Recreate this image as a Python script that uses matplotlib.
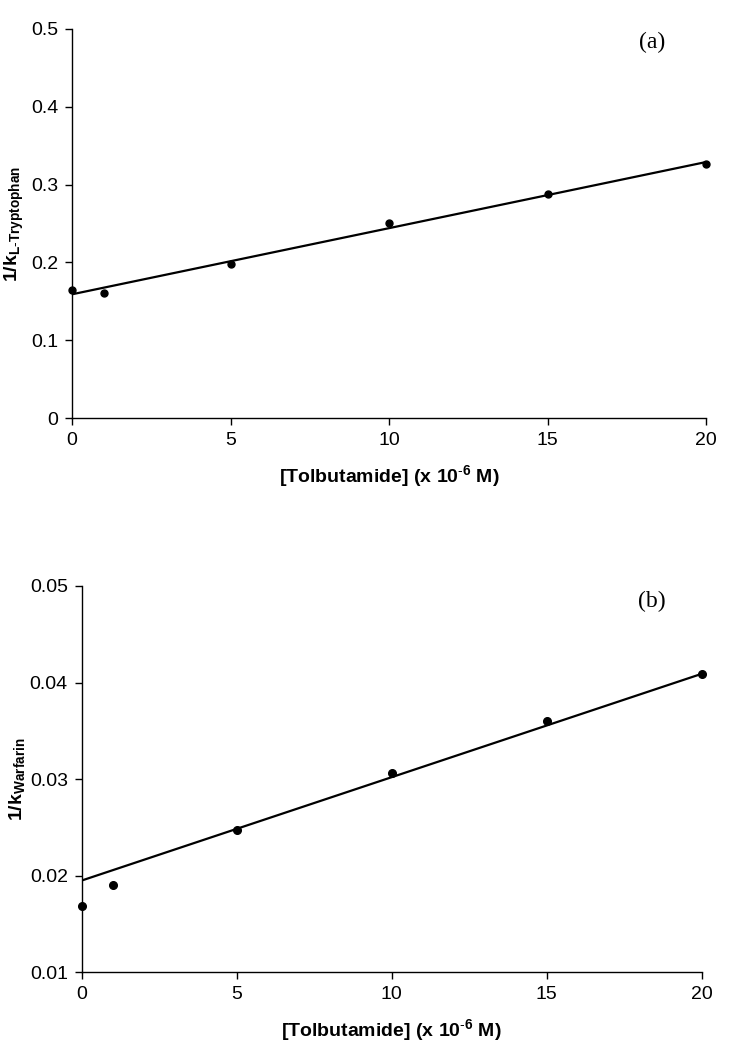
import numpy as np
import matplotlib
matplotlib.use('Agg')
import matplotlib.pyplot as plt
from matplotlib.ticker import FormatStrFormatter, FuncFormatter

plt.rcParams['font.family'] = ['Liberation Sans', 'DejaVu Sans']
plt.rcParams['mathtext.fontset'] = 'custom'
plt.rcParams['mathtext.rm'] = 'Liberation Sans'
plt.rcParams['mathtext.it'] = 'Liberation Sans:italic'
plt.rcParams['mathtext.bf'] = 'Liberation Sans:bold'

# data
tolbutamide = [0, 1, 5, 10, 15, 20]
inv_k_trp = [0.164, 0.161, 0.198, 0.250, 0.288, 0.327]
inv_k_warf = [0.0169, 0.0190, 0.0247, 0.0306, 0.0360, 0.0409]

# fitted lines (intercept, slope) as drawn in the figure
fit_trp = (0.159, 0.0085)
fit_warf = (0.0195, 0.00107)

x_ticks = [0, 5, 10, 15, 20]

fig = plt.figure(figsize=(7.44, 10.5), dpi=100)

ax1 = fig.add_axes([0.0968, 0.6019, 0.8522, 0.3705])
ax2 = fig.add_axes([0.1098, 0.0740, 0.8334, 0.3680])


def style(ax):
    for s in ['top', 'right']:
        ax.spines[s].set_visible(False)
    for s in ['left', 'bottom']:
        ax.spines[s].set_linewidth(1.0)
    ax.tick_params(direction='out', length=5, width=1.0, labelsize=14, pad=5)
    ax.set_xlim(0, 20)
    ax.set_xticks(x_ticks)
    ax.xaxis.set_major_formatter(FormatStrFormatter('%d'))
    ax.yaxis.set_major_formatter(FuncFormatter(lambda v, p: ('%g' % v)))


xlab = r'[Tolbutamide] (x 10$^{\mathbf{\text{-}6}}$ M)'

# (a) L-Tryptophan
xs = np.array([0, 20])
ax1.plot(xs, fit_trp[0] + fit_trp[1] * xs, color='black', lw=1.6, zorder=2)
ax1.plot(tolbutamide, inv_k_trp, 'o', color='black', ms=5, zorder=3, clip_on=False)
style(ax1)
ax1.set_ylim(0, 0.5)
ax1.set_yticks([0, 0.1, 0.2, 0.3, 0.4, 0.5])
ax1.set_xlabel(xlab, fontsize=14, fontweight='bold', labelpad=10)
ax1.set_ylabel(r'$\mathbf{1/k}_{\mathbf{L\text{-}Tryptophan}}$', fontsize=14)
ax1.yaxis.set_label_coords(-0.072, 0.5)
ax1.text(0.915, 0.965, '(a)', transform=ax1.transAxes, fontsize=17,
         family='Liberation Serif', ha='center', va='center')

# (b) Warfarin
ax2.plot(xs, fit_warf[0] + fit_warf[1] * xs, color='black', lw=1.6, zorder=2)
ax2.plot(tolbutamide, inv_k_warf, 'o', color='black', ms=5.5, zorder=3, clip_on=False)
style(ax2)
ax2.set_ylim(0.01, 0.05)
ax2.set_yticks([0.01, 0.02, 0.03, 0.04, 0.05])
ax2.set_xlabel(xlab, fontsize=14, fontweight='bold', labelpad=10)
ax2.set_ylabel(r'$\mathbf{1/k}_{\mathbf{Warfarin}}$', fontsize=14)
ax2.yaxis.set_label_coords(-0.089, 0.5)
ax2.text(0.92, 0.96, '(b)', transform=ax2.transAxes, fontsize=17,
         family='Liberation Serif', ha='center', va='center')

fig.savefig('out.png', dpi=100)
